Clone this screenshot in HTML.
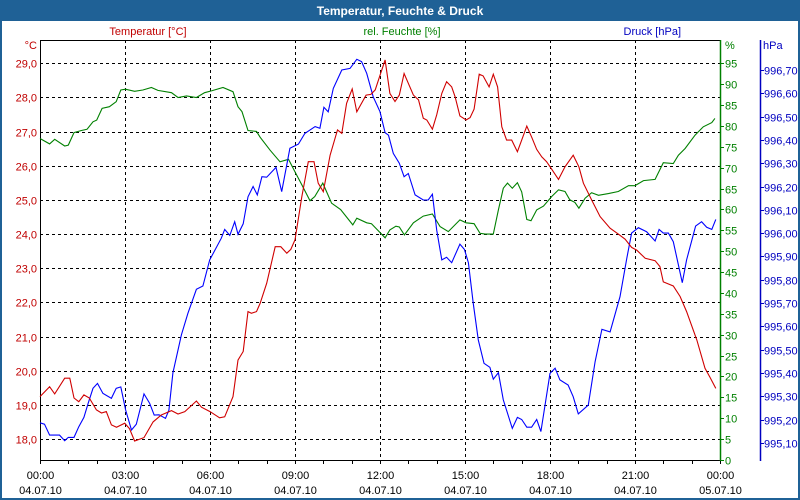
<!DOCTYPE html>
<html><head><meta charset="utf-8"><style>
body{margin:0;background:#fff;}
svg{display:block;font-family:"Liberation Sans",sans-serif;}
</style></head><body>
<svg id="chart" width="800" height="500" viewBox="0 0 800 500">
<rect x="0" y="0" width="800" height="500" fill="#fff"/>
<rect x="1" y="1" width="798" height="498" fill="none" stroke="#1f6196" stroke-width="2"/>
<rect x="0" y="0" width="800" height="21" fill="#1f6196"/>
<text x="400" y="15" text-anchor="middle" fill="#fff" font-weight="bold" font-size="12">Temperatur, Feuchte &amp; Druck</text>
<text x="148" y="35" text-anchor="middle" fill="#c00000" font-size="11">Temperatur [°C]</text>
<text x="402" y="35" text-anchor="middle" fill="#008000" font-size="11">rel. Feuchte [%]</text>
<text x="681" y="35" text-anchor="end" fill="#0000c0" font-size="11">Druck [hPa]</text>
<text x="37" y="49" text-anchor="end" fill="#c00000" font-size="11">°C</text>
<text x="725" y="49" fill="#008000" font-size="11">%</text>
<text x="763" y="49" fill="#0000c0" font-size="11">hPa</text>
<g id="grid"></g>
<g id="axes"></g>
<g id="series"></g>
</svg>
<script>
const tempTimes=[0,0.34,0.52,0.87,1.05,1.2,1.37,1.55,1.74,1.99,2.17,2.34,2.52,2.7,2.99,3.16,3.34,3.67,3.99,4.28,4.64,4.87,5.11,5.52,5.7,6.0,6.34,6.52,6.81,6.99,7.17,7.34,7.46,7.64,7.77,8.0,8.3,8.5,8.71,8.85,9.0,9.24,9.47,9.67,9.82,10.0,10.24,10.5,10.65,10.82,11.02,11.18,11.51,11.68,11.83,12.18,12.35,12.53,12.68,12.85,13.18,13.36,13.53,13.65,13.85,14.0,14.18,14.35,14.53,14.65,14.82,15.04,15.18,15.32,15.5,15.64,15.85,16.0,16.15,16.3,16.47,16.65,16.85,17.0,17.18,17.36,17.53,17.71,17.88,18.06,18.3,18.53,18.82,19.02,19.18,19.47,19.77,20.12,20.41,20.65,20.88,21.06,21.36,21.71,21.88,22.0,22.35,22.59,22.82,23.18,23.47,23.65,23.85];
const tempValues=[19.24,19.53,19.32,19.78,19.78,19.2,19.09,19.29,19.2,18.85,18.76,18.8,18.41,18.34,18.46,18.3,17.94,18.04,18.5,18.7,18.83,18.73,18.8,19.11,18.93,18.8,18.62,18.65,19.24,20.31,20.56,21.73,21.68,21.73,21.97,22.56,23.63,23.63,23.44,23.55,23.83,25.09,26.12,26.12,25.49,25.24,26.31,27.05,26.95,27.83,28.25,27.58,28.07,28.09,28.22,29.1,28.12,27.88,28.07,28.7,28.07,27.93,27.39,27.34,27.07,27.49,28.12,28.46,28.31,28.02,27.46,27.34,27.41,27.66,28.68,28.63,28.31,28.68,28.31,27.14,26.75,26.75,26.41,26.75,27.16,26.82,26.48,26.26,26.12,25.9,25.6,25.97,26.31,25.97,25.49,25.0,24.51,24.17,24.0,23.85,23.61,23.53,23.29,23.22,23.05,22.6,22.48,22.17,21.73,20.9,20.07,19.8,19.48];
const humTimes=[0,0.34,0.52,0.87,1.0,1.2,1.46,1.66,1.87,2.0,2.19,2.45,2.69,2.85,3.02,3.34,3.63,3.93,4.16,4.64,4.87,5.17,5.52,5.81,6.05,6.46,6.81,6.99,7.13,7.34,7.64,7.77,8.12,8.47,8.77,9.0,9.24,9.53,9.7,9.98,10.29,10.61,11.04,11.18,11.53,11.7,11.94,12.18,12.35,12.56,12.68,12.86,13.18,13.53,13.85,14.12,14.41,14.82,15.04,15.32,15.53,15.71,16.0,16.18,16.35,16.5,16.67,16.85,17.0,17.18,17.33,17.53,17.77,18.06,18.3,18.53,18.7,18.88,19.02,19.24,19.47,19.71,20.06,20.41,20.77,21.0,21.3,21.71,22.0,22.35,22.53,22.77,23.12,23.41,23.71,23.82];
const humValues=[77.0,75.7,76.8,75.2,75.4,78.4,78.9,79.2,81.0,81.4,84.2,84.6,85.8,88.6,88.8,88.3,88.6,89.2,88.5,87.96,86.8,87.2,86.8,87.96,88.4,89.2,88.2,84.6,83.4,78.9,78.7,77.3,74.2,71.4,72.0,69.0,65.9,62.1,63.1,66.3,61.5,60.0,56.3,57.9,56.8,56.6,54.9,53.2,55.1,56.0,55.8,53.9,56.8,58.4,58.9,55.9,54.7,57.5,56.8,56.6,54.3,54.1,54.1,59.9,65.1,66.3,65.1,66.4,64.2,57.6,57.3,59.9,60.8,63.1,64.7,64.3,62.3,61.7,60.3,62.7,64.0,63.4,63.8,64.3,65.7,65.7,66.9,67.2,71.2,71.0,73.0,74.6,77.8,79.8,80.8,81.8];
const presTimes=[0,0.16,0.34,0.69,0.87,1.0,1.2,1.37,1.55,1.7,1.87,2.03,2.22,2.52,2.69,2.85,3.02,3.23,3.4,3.67,3.87,4.03,4.2,4.43,4.55,4.69,4.99,5.22,5.52,5.75,5.99,6.4,6.52,6.7,6.87,6.99,7.17,7.34,7.52,7.67,7.83,8.0,8.33,8.53,8.82,9.12,9.35,9.71,9.88,10.02,10.17,10.35,10.65,10.94,11.18,11.35,11.53,11.76,12.0,12.18,12.3,12.47,12.68,12.85,13.0,13.24,13.53,13.7,13.85,14.0,14.18,14.35,14.53,14.82,14.98,15.12,15.29,15.47,15.67,15.88,16.0,16.18,16.35,16.67,16.85,17.0,17.18,17.35,17.53,17.68,18.0,18.18,18.35,18.64,18.82,19.0,19.35,19.59,19.83,20.12,20.47,20.71,20.88,21.12,21.41,21.71,21.85,22.0,22.18,22.35,22.67,22.82,23.14,23.35,23.53,23.71,23.85];
const presValues=[995.186,995.18,995.133,995.133,995.109,995.123,995.123,995.169,995.209,995.27,995.334,995.355,995.312,995.291,995.334,995.34,995.241,995.155,995.18,995.31,995.27,995.219,995.22,995.205,995.24,995.4,995.563,995.656,995.759,995.773,995.885,995.978,996.016,995.99,996.049,995.995,996.04,996.156,996.2,996.164,996.242,996.24,996.282,996.178,996.364,996.382,996.428,996.457,996.45,996.54,996.52,996.621,996.7,996.707,996.746,996.736,996.686,996.585,996.521,996.431,996.42,996.342,996.3,996.242,996.256,996.164,996.142,996.142,996.167,996.013,995.885,995.896,995.873,995.953,995.93,995.873,995.7,995.541,995.441,995.424,995.373,995.401,995.284,995.162,995.209,995.2,995.167,995.167,995.2,995.148,995.398,995.42,995.37,995.348,995.298,995.224,995.262,995.448,995.587,995.576,995.727,995.892,996.0,996.023,996.006,995.966,996.016,996.0,996.0,995.963,995.787,995.885,996.03,996.049,996.025,996.016,996.059];
const timeLabels=["00:00","03:00","06:00","09:00","12:00","15:00","18:00","21:00","00:00"];
const dateLabels=["04.07.10","04.07.10","04.07.10","04.07.10","04.07.10","04.07.10","04.07.10","04.07.10","05.07.10"];
const tempTicks=[18,19,20,21,22,23,24,25,26,27,28,29];
const humTicks=[0,5,10,15,20,25,30,35,40,45,50,55,60,65,70,75,80,85,90,95];
const presTicks=[995.1,995.2,995.3,995.4,995.5,995.6,995.7,995.8,995.9,996.0,996.1,996.2,996.3,996.4,996.5,996.6,996.7];

const L=40,R=720,T=40,B=460;
const xS=h=>L+h*(R-L)/24;
const yT=t=>63.3+(29-t)*34.15;
const yH=v=>B-v*(B-63.3)/95;
const yP=p=>70+(996.7-p)*233;
const NS="http://www.w3.org/2000/svg";
function mk(tag,attrs,parent,txt){const e=document.createElementNS(NS,tag);for(const k in attrs)e.setAttribute(k,attrs[k]);if(txt!==undefined)e.textContent=txt;parent.appendChild(e);return e;}
const grid=document.getElementById('grid'),axes=document.getElementById('axes'),series=document.getElementById('series');

tempTicks.forEach(t=>{
  const y=Math.round(yT(t))+0.5;
  const g=mk('line',{x1:L,x2:R,y1:y,y2:y,stroke:'#000','stroke-dasharray':'3,3','stroke-width':1},grid);
  
  
  const lb=mk('text',{x:37,y:y+4,'text-anchor':'end',fill:'#c00000','font-size':11},axes,t.toFixed(1).replace('.',','));
  
  
});
timeLabels.forEach((s,i)=>{
  const x=Math.round(xS(i*3))+0.5;
  if(i>0&&i<8){
    const g=mk('line',{x1:x,x2:x,y1:T,y2:B,stroke:'#000','stroke-dasharray':'3,3','stroke-width':1},grid);
    
    
  }
  const a=mk('text',{x:x,y:479,'text-anchor':'middle',fill:'#000','font-size':11},axes,s);
  
  
  const d=mk('text',{x:x,y:494,'text-anchor':'middle',fill:'#000','font-size':11},axes,dateLabels[i]);
  
  
});
for(let h=0;h<=24;h++){
  const x=Math.round(xS(h))+0.5;
  const tk=mk('line',{x1:x,x2:x,y1:B,y2:B+4,stroke:'#000'},axes);
  
  
}
humTicks.forEach(v=>{
  const y=Math.round(yH(v))+0.5;
  const tk=mk('line',{x1:R,x2:R+4,y1:y,y2:y,stroke:'#008000'},axes);
  
  
  const lb=mk('text',{x:725,y:y+4,fill:'#008000','font-size':11},axes,String(v));
  
  
});
presTicks.forEach(p=>{
  const y=Math.round(yP(p))+0.5;
  const tk=mk('line',{x1:760,x2:764,y1:y,y2:y,stroke:'#0000c0'},axes);
  
  
  const lb=mk('text',{x:764,y:y+4,fill:'#0000c0','font-size':11},axes,p.toFixed(2).replace('.',','));
  
  
});
const f1=mk('path',{d:`M${L+0.5},${T} V${B+0.5} H${R}`,fill:'none',stroke:'#000'},axes);


const f2=mk('line',{x1:L,x2:R,y1:T+0.5,y2:T+0.5,stroke:'#000'},axes);


const ah=mk('line',{x1:R+0.5,x2:R+0.5,y1:T,y2:B+1,stroke:'#008000','stroke-width':1.5},axes);


const ap=mk('line',{x1:760.5,x2:760.5,y1:T,y2:B+1,stroke:'#0000c0','stroke-width':1.5},axes);



function line(ts,vs,yf,col,name){
  const d=ts.map((t,i)=>(i?'L':'M')+xS(t).toFixed(1)+','+yf(vs[i]).toFixed(1)).join(' ');
  const p=mk('path',{d:d,fill:'none',stroke:col,'stroke-width':1.1},series);
  
  
}
line(humTimes,humValues,yH,'#008000','humidity-line');
line(presTimes,presValues,yP,'#0000ff','pressure-line');
line(tempTimes,tempValues,yT,'#d00000','temperature-line');
</script>
</body></html>
